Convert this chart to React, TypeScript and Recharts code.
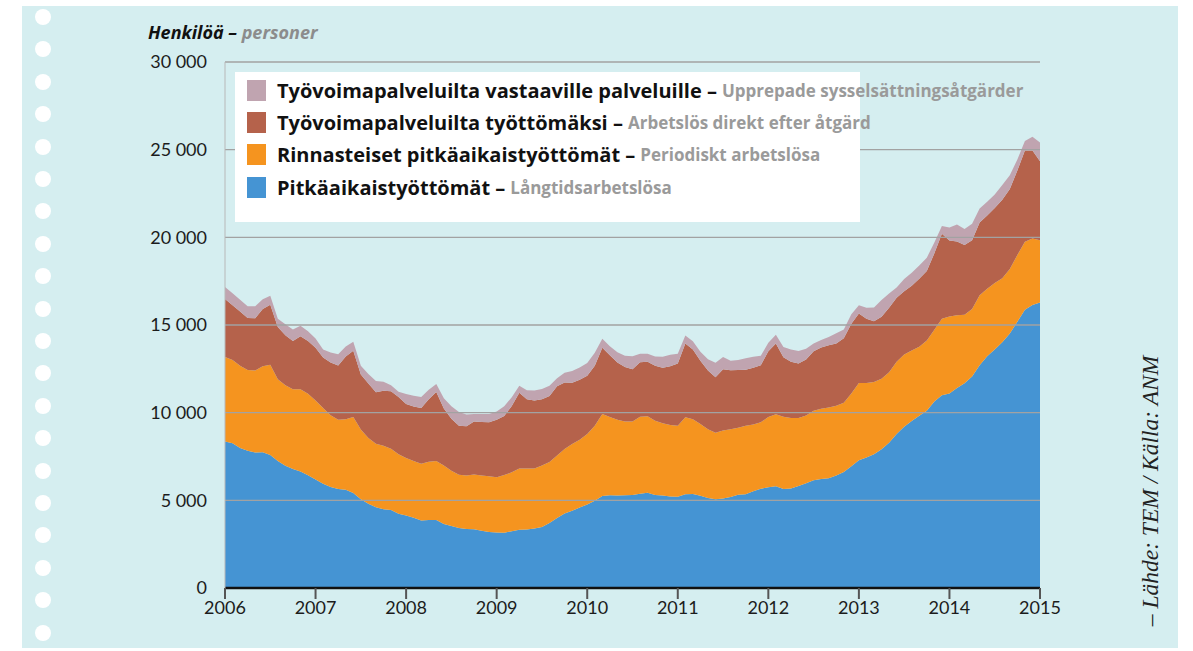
import { AreaChart, Area, XAxis, YAxis, ReferenceLine } from 'recharts';

const FONT = 'Lato, "Open Sans", sans-serif';
const LEGEND_FONT = '"Open Sans", Lato, sans-serif';

const years = ['2006', '2007', '2008', '2009', '2010', '2011', '2012', '2013', '2014', '2015'];
const yTicks = [0, 5000, 10000, 15000, 20000, 25000, 30000];

// monthly, Jan 2006 .. Jan 2015
const longTerm = [
  8350, 8250, 7990, 7830, 7730, 7740, 7590, 7250, 6970, 6790, 6640, 6430,
  6190, 5940, 5760, 5640, 5610, 5420, 5060, 4800, 4610, 4490, 4450, 4240,
  4130, 4000, 3850, 3880, 3880, 3650, 3530, 3420, 3360, 3350, 3270, 3190,
  3160, 3150, 3240, 3320, 3340, 3390, 3480, 3710, 3990, 4250, 4400, 4590,
  4760, 4980, 5250, 5290, 5270, 5290, 5310, 5370, 5430, 5310, 5270, 5220,
  5200, 5350, 5360, 5260, 5130, 5060, 5100, 5190, 5320, 5350, 5520, 5660,
  5740, 5800, 5650, 5680, 5820, 5970, 6140, 6210, 6260, 6420, 6610, 6940,
  7280, 7440, 7630, 7910, 8280, 8790, 9200, 9520, 9820, 10110, 10640, 10990,
  11100, 11410, 11680, 12060, 12700, 13220, 13600, 14020, 14510, 15190, 15870, 16140,
  16280,
];

const periodic = [
  4820, 4750, 4690, 4610, 4670, 4910, 5140, 4650, 4590, 4540, 4700, 4650,
  4510, 4330, 4090, 3960, 4010, 4340, 3980, 3750, 3620, 3620, 3490, 3390,
  3290, 3240, 3240, 3320, 3370, 3330, 3160, 3040, 3050, 3130, 3150, 3180,
  3160, 3290, 3360, 3490, 3470, 3430, 3510, 3470, 3570, 3680, 3820, 3860,
  4020, 4270, 4680, 4470, 4330, 4200, 4190, 4400, 4360, 4230, 4130, 4070,
  4060, 4390, 4260, 4090, 3930, 3800, 3890, 3860, 3820, 3900, 3810, 3790,
  4010, 4110, 4120, 4010, 3870, 3870, 3970, 4010, 4030, 3980, 3950, 4160,
  4410, 4250, 4120, 4030, 4030, 4120, 4120, 4030, 3940, 4000, 4090, 4370,
  4390, 4150, 3910, 3850, 3990, 3850, 3790, 3640, 3680, 3800, 3880, 3790,
  3550,
];

const afterMeasure = [
  3310, 3130, 3090, 2960, 2980, 3260, 3430, 2990, 2850, 2760, 3020, 3010,
  3000, 2880, 3010, 3090, 3580, 3770, 3130, 3110, 2930, 3140, 3280, 3260,
  3080, 3110, 3170, 3560, 3930, 3260, 2970, 2790, 2820, 3020, 3050, 3080,
  3270, 3370, 3780, 4320, 3960, 3870, 3780, 3770, 3950, 3790, 3480, 3430,
  3330, 3430, 3770, 3520, 3260, 3110, 2970, 3100, 3110, 3130, 3160, 3360,
  3550, 4200, 3980, 3610, 3350, 3160, 3480, 3370, 3290, 3200, 3230, 3250,
  3750, 4030, 3390, 3220, 3120, 3190, 3390, 3490, 3560, 3550, 3690, 3970,
  3970, 3670, 3470, 3530, 3670, 3650, 3610, 3690, 3880, 3970, 4360, 4850,
  4330, 4200, 3970, 3920, 4160, 4170, 4280, 4480, 4570, 4820, 5200, 5020,
  4510,
];

const repeated = [
  690, 680, 670, 670, 690, 560, 510, 470, 630, 660, 600, 550,
  530, 450, 570, 640, 580, 510, 500, 540, 640, 510, 350, 310,
  570, 620, 630, 550, 460, 580, 700, 790, 670, 430, 460, 470,
  470, 550, 500, 400, 510, 570, 580, 580, 450, 560, 670, 700,
  720, 740, 510, 510, 580, 640, 750, 490, 460, 540, 630, 660,
  550, 460, 480, 510, 630, 820, 710, 540, 580, 660, 630, 540,
  490, 510, 590, 690, 710, 620, 450, 430, 470, 580, 490, 540,
  470, 620, 780, 960, 820, 580, 690, 740, 760, 760, 610, 430,
  740, 970, 920, 950, 790, 790, 780, 850, 780, 630, 540, 780,
  1070,
];

const legendItems = [
  { fi: 'Työvoimapalveluilta vastaaville palveluille', sv: 'Upprepade sysselsättningsåtgärder', color: '#c0a4b0' },
  { fi: 'Työvoimapalveluilta työttömäksi', sv: 'Arbetslös direkt efter åtgärd', color: '#b5624b' },
  { fi: 'Rinnasteiset pitkäaikaistyöttömät', sv: 'Periodiskt arbetslösa', color: '#f5941f' },
  { fi: 'Pitkäaikaistyöttömät', sv: 'Långtidsarbetslösa', color: '#4594d3' },
];

const data = longTerm.map((v, i) => ({
  i,
  longTerm: v,
  periodic: periodic[i],
  afterMeasure: afterMeasure[i],
  repeated: repeated[i],
}));

const fmt = (v: number) => (v === 0 ? '0' : `${v / 1000} 000`);

export default function App() {
  return (
    <div style={{ position: 'absolute', left: 0, top: 0, width: 1193, height: 651, background: '#fff', fontFamily: FONT, overflow: 'hidden' }}>
      <div style={{ position: 'absolute', left: 22, top: 6, width: 1156, height: 642, background: '#d5eef0' }} />
      {Array.from({ length: 20 }).map((_, k) => (
        <div key={k} style={{ position: 'absolute', left: 35, top: 9 + k * 32.4, width: 16, height: 16, borderRadius: 8, background: '#fff' }} />
      ))}

      <div style={{ position: 'absolute', left: 148, top: 22, fontFamily: LEGEND_FONT, fontSize: 18, lineHeight: '20px', fontWeight: 700, fontStyle: 'italic', whiteSpace: 'nowrap', color: '#111' }}>
        Henkilöä – <span style={{ color: '#8c8c8c' }}>personer</span>
      </div>

      <div style={{ position: 'absolute', left: 0, top: 0 }}>
        <AreaChart width={1193} height={651} data={data} margin={{ top: 62, right: 153, bottom: 23, left: 145 }}>
          <XAxis
            dataKey="i"
            type="number"
            domain={[0, 108]}
            ticks={years.map((_, k) => k * 12)}
            tickFormatter={(v: number) => years[Math.round(v / 12)]}
            interval={0}
            height={40}
            axisLine={{ stroke: '#111', strokeWidth: 2.6 }}
            tickLine={{ stroke: '#555', strokeWidth: 2 }}
            tickSize={11}
            tick={{ fontSize: 18, fill: '#1c1c1c', fontFamily: FONT }}
          />
          <YAxis
            domain={[0, 30000]}
            ticks={yTicks}
            tickFormatter={fmt}
            width={80}
            axisLine={{ stroke: '#b8b8b8', strokeWidth: 1 }}
            tickLine={false}
            tickSize={0}
            tickMargin={18}
            tick={{ fontSize: 18, fill: '#1c1c1c', fontFamily: FONT }}
          />
          <Area type="linear" dataKey="longTerm" stackId="a" stroke="none" fill="#4594d3" fillOpacity={1} isAnimationActive={false} />
          <Area type="linear" dataKey="periodic" stackId="a" stroke="none" fill="#f5941f" fillOpacity={1} isAnimationActive={false} />
          <Area type="linear" dataKey="afterMeasure" stackId="a" stroke="none" fill="#b5624b" fillOpacity={1} isAnimationActive={false} />
          <Area type="linear" dataKey="repeated" stackId="a" stroke="none" fill="#c0a4b0" fillOpacity={1} isAnimationActive={false} />
          {yTicks.filter((t) => t > 0).map((t) => (
            <ReferenceLine key={t} y={t} stroke="#a2a2a2" strokeWidth={1.4} />
          ))}
        </AreaChart>
      </div>

      <div style={{ position: 'absolute', left: 235, top: 72, width: 625, height: 150, background: '#fff' }} />
      {legendItems.map((it, k) => (
        <div key={it.fi} style={{ position: 'absolute', left: 247, top: 79 + k * 32.4, height: 22, display: 'flex', alignItems: 'center', whiteSpace: 'nowrap', fontFamily: LEGEND_FONT }}>
          <span style={{ display: 'inline-block', width: 19, height: 21, background: it.color, marginRight: 11 }} />
          <span style={{ fontSize: 20, fontWeight: 700, color: '#111' }}>{it.fi} – </span>
          <span style={{ fontSize: 17, fontWeight: 700, color: '#9a9a9a', marginLeft: 5 }}>{it.sv}</span>
        </div>
      ))}

      <div style={{ position: 'absolute', left: 1000, top: 479, width: 300, height: 24, lineHeight: '24px', textAlign: 'center', transform: 'rotate(-90deg)', fontFamily: '"Liberation Serif", "DejaVu Serif", serif', fontStyle: 'italic', fontSize: 23.5, color: '#222', whiteSpace: 'nowrap' }}>
        – Lähde: TEM / Källa: ANM
      </div>
    </div>
  );
}
